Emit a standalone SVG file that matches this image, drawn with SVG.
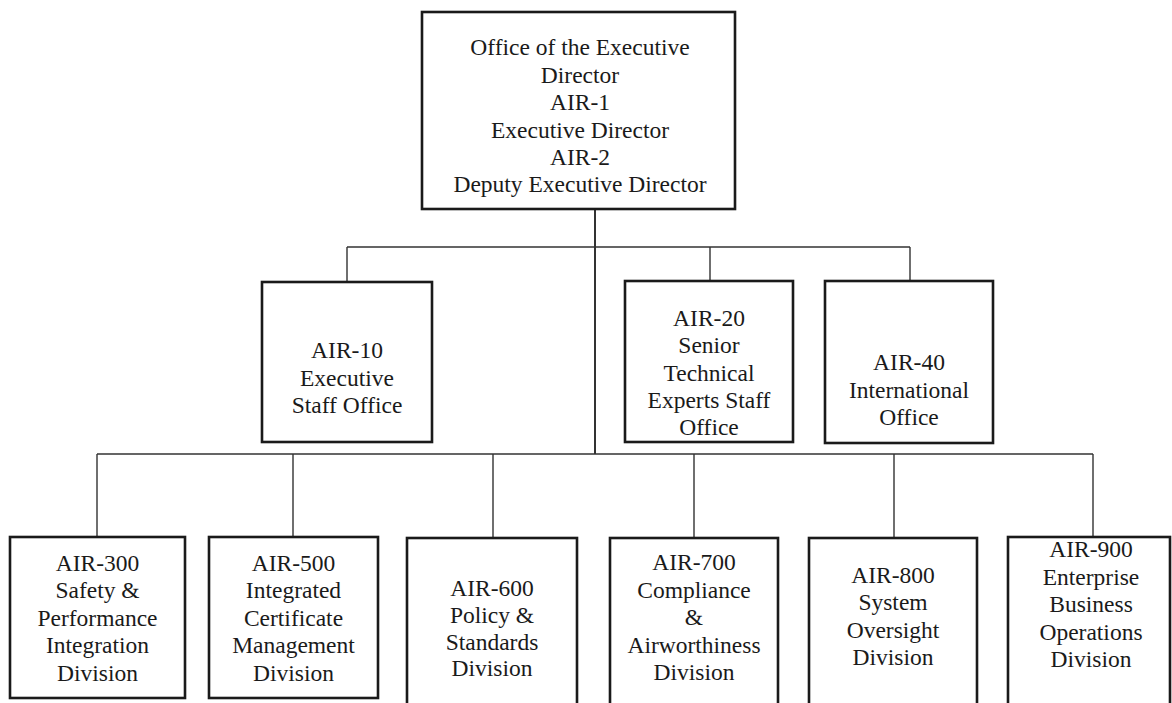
<svg xmlns="http://www.w3.org/2000/svg" width="1172" height="703" viewBox="0 0 1172 703">
<style>
.box{fill:#fff;stroke:#1a1a1a;stroke-width:2.6}
.t{font-family:"Liberation Serif","Times New Roman",serif;font-size:23.5px;fill:#1a1a1a;text-anchor:middle}
.c{fill:none;stroke:#333;stroke-width:1.4}
</style>
<rect width="1172" height="703" fill="#fff"/>
<g id="connectors">
<path class="c" d="M595 209 V454" style="stroke-width:2"/>
<path class="c" d="M347 247 H910 M347 247 V282 M710 247 V281 M910 247 V281"/>
<path class="c" d="M97 454 H1093 M97 454 V537 M293 454 V537 M493 454 V538 M694 454 V538 M894 454 V538 M1093 454 V537"/>
</g>
<g id="n-air1">
<rect class="box" x="422" y="12" width="313" height="197"/>
<text class="t" x="580" y="55">Office of the Executive</text>
<text class="t" x="580" y="83">Director</text>
<text class="t" x="580" y="110">AIR-1</text>
<text class="t" x="580" y="138">Executive Director</text>
<text class="t" x="580" y="165">AIR-2</text>
<text class="t" x="580" y="192">Deputy Executive Director</text>
</g>
<g id="n-air10">
<rect class="box" x="262" y="282" width="170" height="160"/>
<text class="t" x="347" y="358">AIR-10</text>
<text class="t" x="347" y="386">Executive</text>
<text class="t" x="347" y="413">Staff Office</text>
</g>
<g id="n-air20">
<rect class="box" x="625" y="281" width="168" height="161"/>
<text class="t" x="709" y="326">AIR-20</text>
<text class="t" x="709" y="353">Senior</text>
<text class="t" x="709" y="381">Technical</text>
<text class="t" x="709" y="408">Experts Staff</text>
<text class="t" x="709" y="435">Office</text>
</g>
<g id="n-air40">
<rect class="box" x="825" y="281" width="168" height="162"/>
<text class="t" x="909" y="370">AIR-40</text>
<text class="t" x="909" y="398">International</text>
<text class="t" x="909" y="425">Office</text>
</g>
<g id="n-air300">
<rect class="box" x="10" y="537" width="175" height="161"/>
<text class="t" x="97.5" y="571">AIR-300</text>
<text class="t" x="97.5" y="598">Safety &amp;</text>
<text class="t" x="97.5" y="626">Performance</text>
<text class="t" x="97.5" y="653">Integration</text>
<text class="t" x="97.5" y="681">Division</text>
</g>
<g id="n-air500">
<rect class="box" x="209" y="537" width="169" height="161"/>
<text class="t" x="293.5" y="571">AIR-500</text>
<text class="t" x="293.5" y="598">Integrated</text>
<text class="t" x="293.5" y="626">Certificate</text>
<text class="t" x="293.5" y="653">Management</text>
<text class="t" x="293.5" y="681">Division</text>
</g>
<g id="n-air600">
<rect class="box" x="407" y="538" width="170" height="170"/>
<text class="t" x="492" y="596">AIR-600</text>
<text class="t" x="492" y="623">Policy &amp;</text>
<text class="t" x="492" y="650">Standards</text>
<text class="t" x="492" y="676">Division</text>
</g>
<g id="n-air700">
<rect class="box" x="610" y="538" width="168" height="170"/>
<text class="t" x="694" y="570">AIR-700</text>
<text class="t" x="694" y="598">Compliance</text>
<text class="t" x="694" y="625">&amp;</text>
<text class="t" x="694" y="653">Airworthiness</text>
<text class="t" x="694" y="680">Division</text>
</g>
<g id="n-air800">
<rect class="box" x="809" y="538" width="168" height="170"/>
<text class="t" x="893" y="583">AIR-800</text>
<text class="t" x="893" y="610">System</text>
<text class="t" x="893" y="638">Oversight</text>
<text class="t" x="893" y="665">Division</text>
</g>
<g id="n-air900">
<rect class="box" x="1008" y="537" width="162" height="171"/>
<text class="t" x="1091" y="557">AIR-900</text>
<text class="t" x="1091" y="585">Enterprise</text>
<text class="t" x="1091" y="612">Business</text>
<text class="t" x="1091" y="640">Operations</text>
<text class="t" x="1091" y="667">Division</text>
</g>
</svg>
